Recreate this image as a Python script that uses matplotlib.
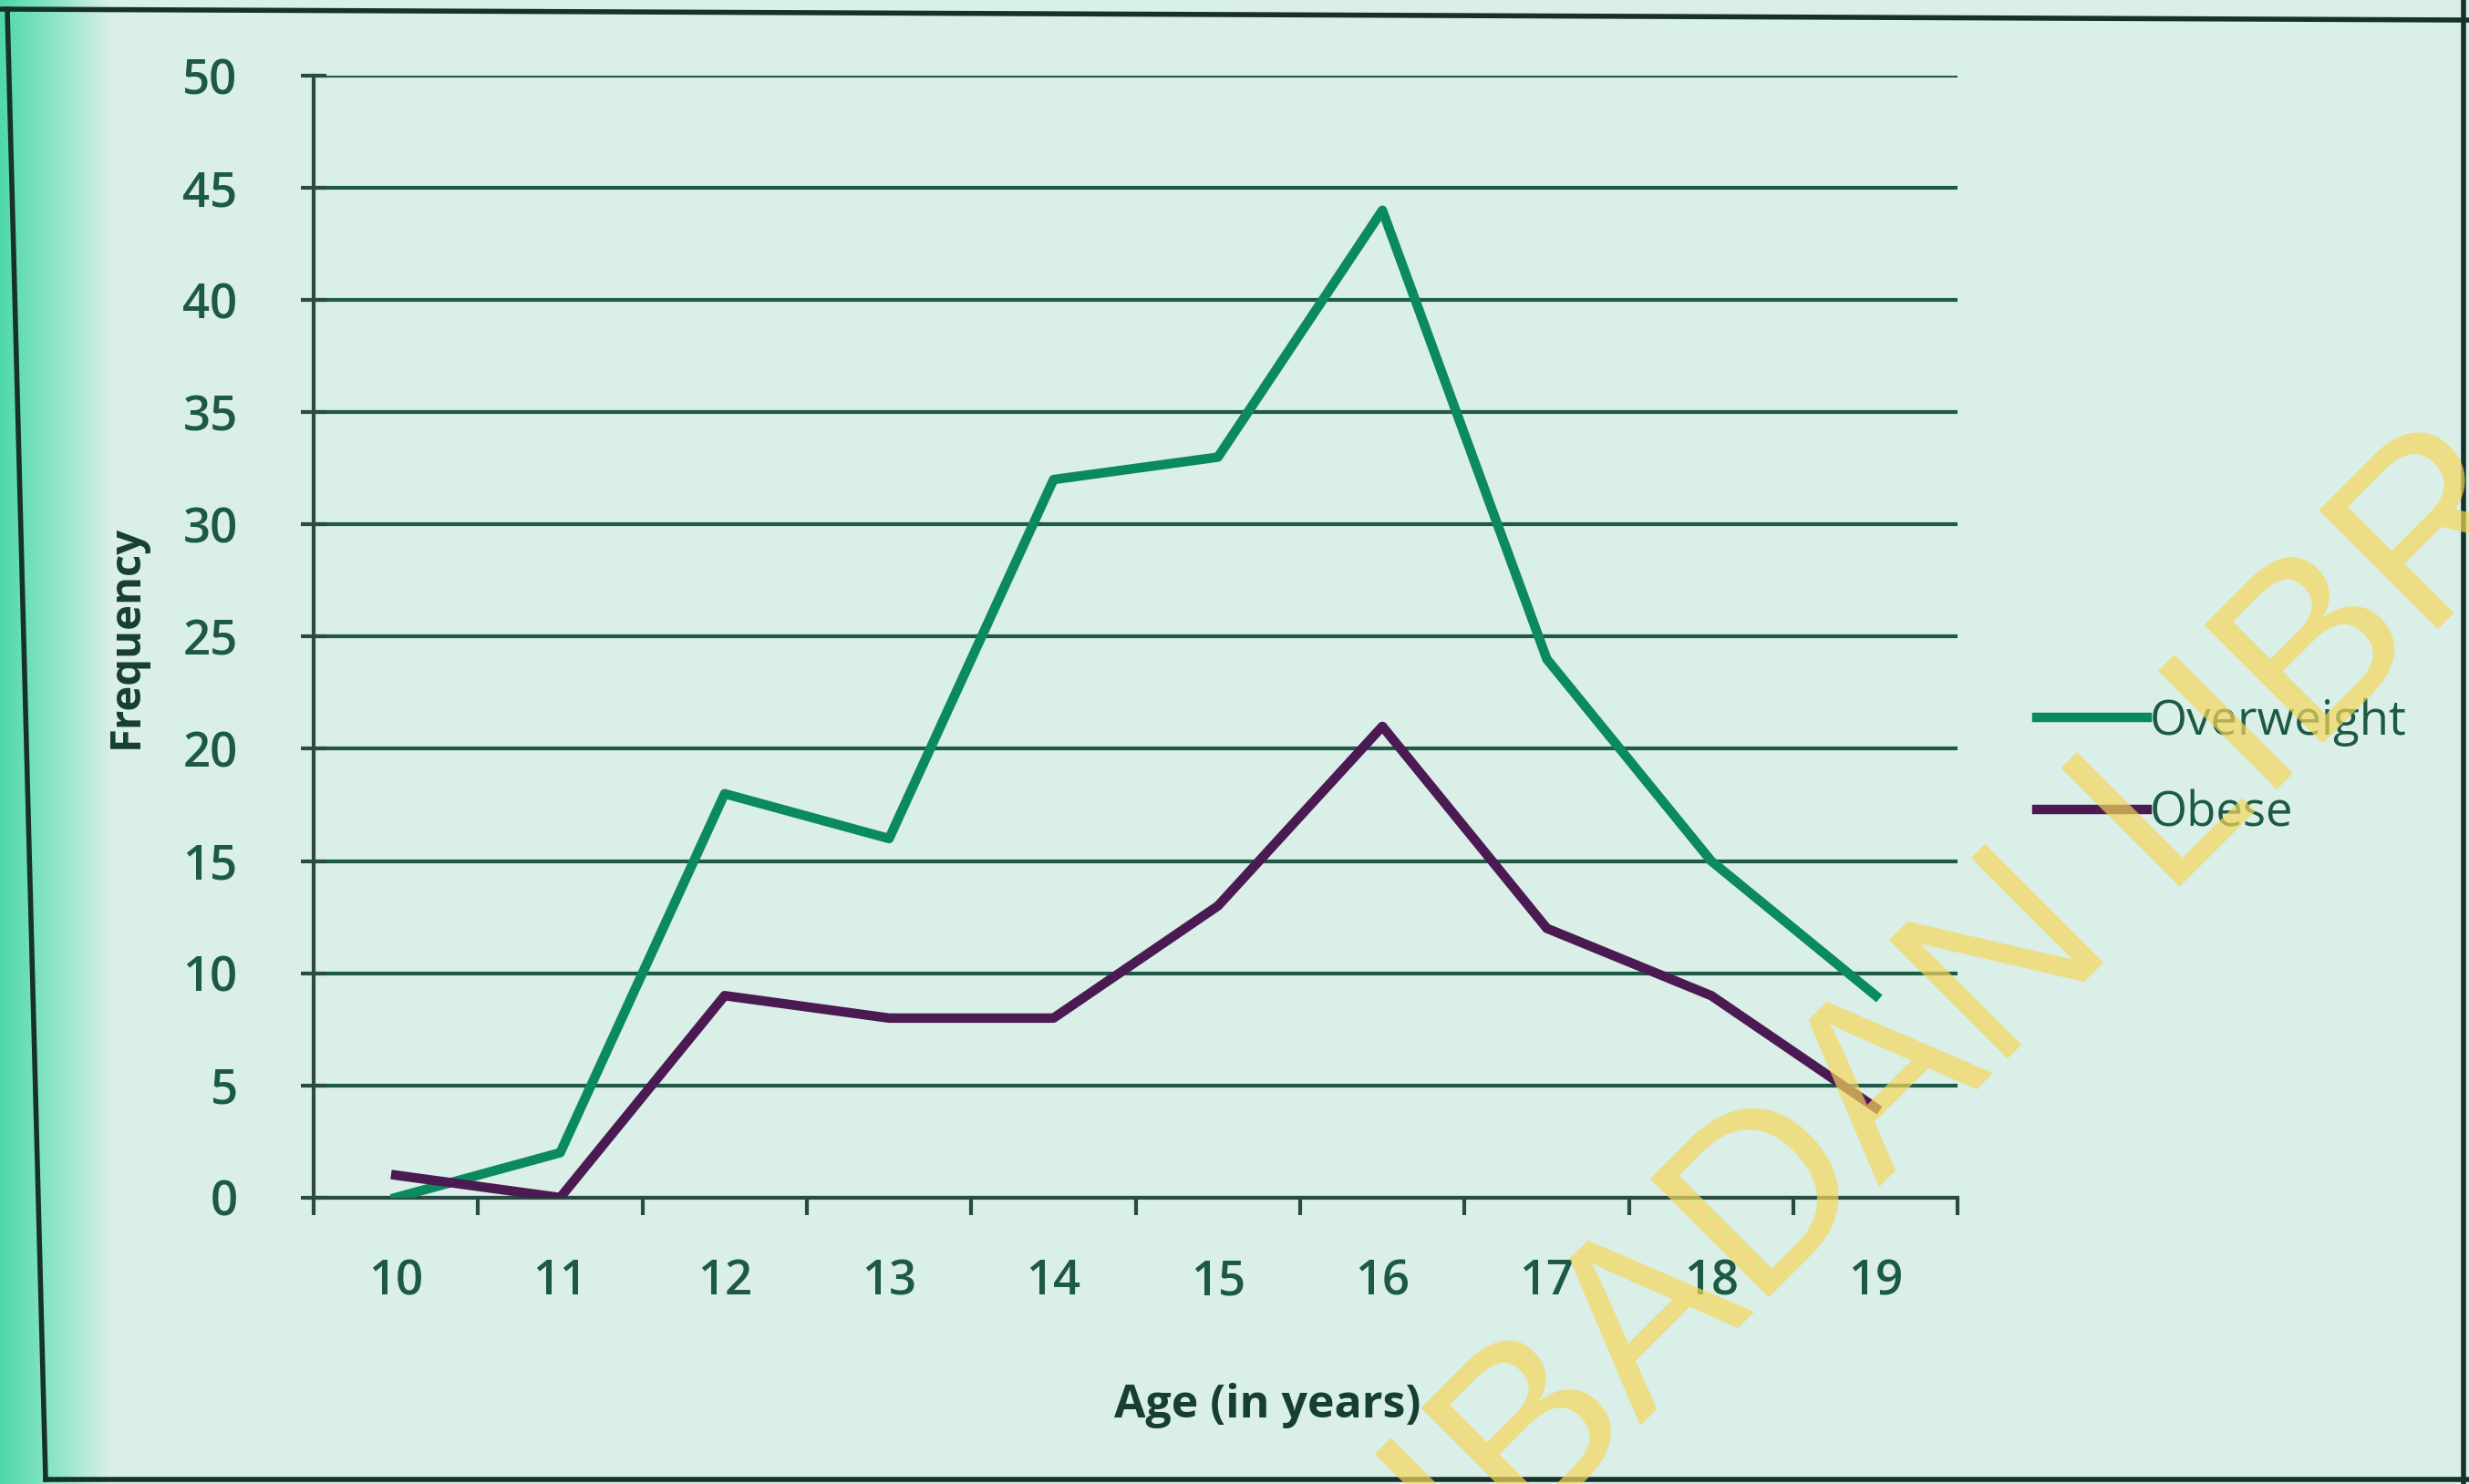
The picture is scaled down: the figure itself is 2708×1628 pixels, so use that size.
import numpy as np
import matplotlib.pyplot as plt
from matplotlib.colors import LinearSegmentedColormap
from matplotlib.lines import Line2D

# Frequency of overweight / obese respondents by age
ages = [10, 11, 12, 13, 14, 15, 16, 17, 18, 19]
overweight = [0, 2, 18, 16, 32, 33, 44, 24, 15, 9]
obese = [1, 0, 9, 8, 8, 13, 21, 12, 9, 4]
y_ticks = [0, 5, 10, 15, 20, 25, 30, 35, 40, 45, 50]

bg = '#d9efe8'
ink = '#1c5a44'
axis_col = '#2a4a44'

plt.rcParams['font.family'] = ['Open Sans', 'DejaVu Sans']

W, H = 2708, 1628
fig = plt.figure(figsize=(W / 100, H / 100), dpi=100, facecolor=bg)

# teal band down the left edge of the sheet
band = fig.add_axes([0, 0, 0.045, 1], zorder=-5)
grad = np.linspace(0, 1, 200).reshape(1, -1)
band.imshow(grad, aspect='auto', extent=[0, 1, 0, 1],
            cmap=LinearSegmentedColormap.from_list('edge', ['#4fd8ab', '#8fe5c8', bg]))
band.axis('off')

ax = fig.add_axes([0.127, 0.193, 0.666, 0.756])
ax.set_facecolor('none')

pos = np.arange(len(ages))
ax.plot(pos, overweight, color='#0b8a5f', lw=7.5, label='Overweight', zorder=3)
ax.plot(pos, obese, color='#4b1a52', lw=7.5, label='Obese', zorder=3)

ax.set_xlim(-0.5, len(ages) - 0.5)
ax.set_ylim(0, 50)
ax.set_yticks(y_ticks)
ax.set_xticks(pos)
ax.set_xticklabels([str(a) for a in ages])
ax.set_xticks(np.arange(-0.5, len(ages), 1), minor=True)
ax.tick_params(axis='x', which='major', length=0, pad=48, labelsize=38, labelcolor=ink)
ax.tick_params(axis='x', which='minor', length=14, width=3, color=axis_col, direction='out')
ax.tick_params(axis='y', length=20, width=3, color=axis_col, direction='inout', pad=50,
               labelsize=38, labelcolor=ink)
for lab in ax.get_xticklabels() + ax.get_yticklabels():
    lab.set_fontweight('semibold')

ax.grid(axis='y', color='#1f5a48', lw=3)
ax.set_axisbelow(True)
for side in ['top', 'right']:
    ax.spines[side].set_visible(False)
for side in ['left', 'bottom']:
    ax.spines[side].set_color(axis_col)
    ax.spines[side].set_linewidth(3)

ax.set_xlabel('Age (in years)', fontsize=36, fontweight='bold', color='#173f30', labelpad=60)
ax.xaxis.set_label_coords(0.58, -0.165)
ax.set_ylabel('Frequency', fontsize=34, fontweight='bold', color='#173f30', labelpad=28)

ax.legend(loc='center left', bbox_to_anchor=(1.048, 0.383), frameon=False,
          fontsize=38, handlelength=2.3, handletextpad=0.05, labelspacing=0.9,
          borderpad=0, borderaxespad=0, labelcolor=ink)

# photo frame edges
frame = [((8, 10), (50, 1623)), ((50, 1623), (2708, 1623)),
         ((2702, 0), (2702, 1628)), ((0, 10), (2708, 22))]
for (x0, y0), (x1, y1) in frame:
    fig.add_artist(Line2D([x0 / W, x1 / W], [1 - y0 / H, 1 - y1 / H],
                          transform=fig.transFigure, color='#16302a', lw=4, zorder=10))

# library watermark
fig.text(0.599, -0.0706, 'IBADAN LIBRARY', fontsize=192, family='Liberation Sans',
         color='#f6d65a', alpha=0.7, rotation=45, rotation_mode='anchor',
         ha='left', va='baseline', zorder=20)

fig.savefig('out.png', dpi=100, facecolor=bg)
